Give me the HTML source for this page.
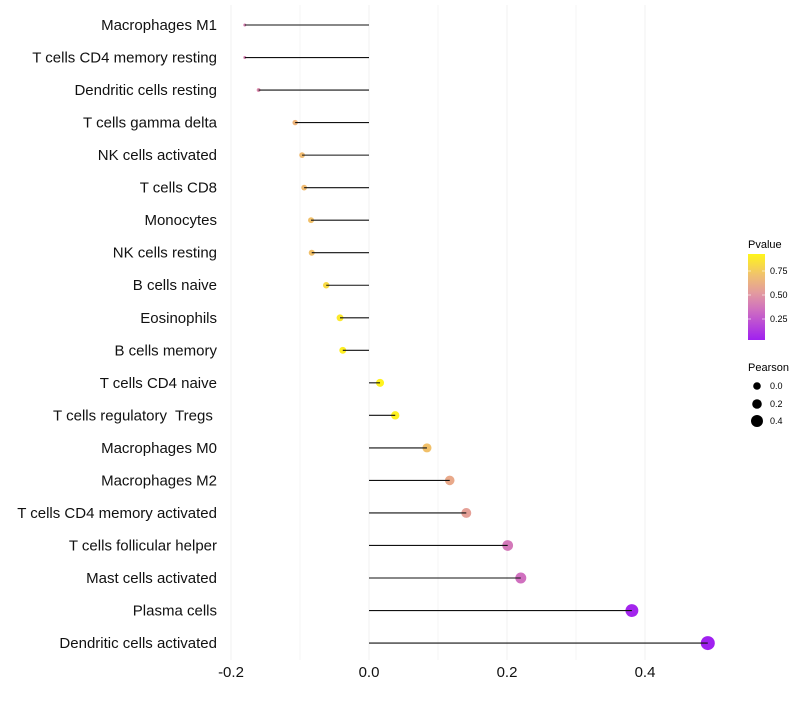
<!DOCTYPE html>
<html><head><meta charset="utf-8"><style>
body{margin:0;background:#fff;font-family:"Liberation Sans",sans-serif}
text{white-space:pre}
</style></head><body>
<svg id="chart" width="800" height="700" xmlns="http://www.w3.org/2000/svg" font-family="Liberation Sans, sans-serif">
<defs><linearGradient id="pg" x1="0" y1="1" x2="0" y2="0">
<stop offset="0" stop-color="#A020F0"/><stop offset="0.35" stop-color="#CF6FC0"/><stop offset="0.55" stop-color="#E39B9E"/><stop offset="0.75" stop-color="#F0C070"/><stop offset="1" stop-color="#FFF51A"/></linearGradient></defs>
<g id="grid"></g><g id="points"></g><g id="marks"></g><g id="ylabels"></g><g id="xlabels"></g>
<g>
<text x="748" y="248" font-size="11">Pvalue</text>
<rect x="748" y="254" width="17" height="86" fill="url(#pg)"/>
<line x1="748" x2="751" y1="271" y2="271" stroke="#fff" opacity=".6"/><line x1="762" x2="765" y1="271" y2="271" stroke="#fff" opacity=".6"/>
<line x1="748" x2="751" y1="295" y2="295" stroke="#fff" opacity=".6"/><line x1="762" x2="765" y1="295" y2="295" stroke="#fff" opacity=".6"/>
<line x1="748" x2="751" y1="319" y2="319" stroke="#fff" opacity=".6"/><line x1="762" x2="765" y1="319" y2="319" stroke="#fff" opacity=".6"/>
<text x="770" y="274" font-size="9">0.75</text><text x="770" y="298" font-size="9">0.50</text><text x="770" y="322" font-size="9">0.25</text>
</g>
<g>
<text x="748" y="371" font-size="11">Pearson</text>
<circle cx="757" cy="386" r="3.8"/><text x="770" y="389" font-size="9">0.0</text>
<circle cx="757" cy="404" r="4.8"/><text x="770" y="407" font-size="9">0.2</text>
<circle cx="757" cy="421" r="6"/><text x="770" y="424" font-size="9">0.4</text>
</g>
</svg>
<script>
const categories=["Macrophages M1","T cells CD4 memory resting","Dendritic cells resting","T cells gamma delta","NK cells activated","T cells CD8","Monocytes","NK cells resting","B cells naive","Eosinophils","B cells memory","T cells CD4 naive","T cells regulatory  Tregs ","Macrophages M0","Macrophages M2","T cells CD4 memory activated","T cells follicular helper","Mast cells activated","Plasma cells","Dendritic cells activated"];
const pearson=[-0.18,-0.18,-0.16,-0.107,-0.097,-0.094,-0.084,-0.083,-0.062,-0.042,-0.038,0.016,0.038,0.084,0.117,0.141,0.201,0.22,0.381,0.491];
const pvalue=[0.42,0.42,0.45,0.66,0.7,0.7,0.72,0.72,0.82,0.88,0.9,0.92,0.91,0.72,0.6,0.55,0.38,0.35,0.05,0.03];
const xTicks=[-0.2,0.0,0.2,0.4];
const xTickLabels=["-0.2","0.0","0.2","0.4"];
const NS="http://www.w3.org/2000/svg";
const xs=v=>369+v*690, ys=i=>25+i*32.53;
const rs=v=>Math.sqrt(Math.max(1.8,14.8+69.8*v));
const stops=[[0,[160,32,240]],[0.35,[207,111,192]],[0.55,[227,155,158]],[0.75,[240,188,112]],[1,[255,245,26]]];
function col(p){let t=(p-0.03)/(0.927-0.03);t=Math.max(0,Math.min(1,t));
for(let k=1;k<stops.length;k++){if(t<=stops[k][0]){const a=stops[k-1],b=stops[k],f=(t-a[0])/(b[0]-a[0]);return "rgb("+a[1].map((c,j)=>Math.round(c+(b[1][j]-c)*f)).join(",")+")";}}return "rgb(255,245,26)";}
function mk(tag,at,parent){const e=document.createElementNS(NS,tag);for(const k in at)e.setAttribute(k,at[k]);document.getElementById(parent).appendChild(e);return e;}
[-0.2,-0.1,0,0.1,0.2,0.3,0.4].forEach((v,i)=>{const l=mk("line",{x1:xs(v),x2:xs(v),y1:5,y2:660,stroke:"#f0f0f0","stroke-width":(i%2==0)?1:0.6},"grid");

});
categories.forEach((c,i)=>{const y=ys(i);
const p=mk("circle",{cx:xs(pearson[i]),cy:y,r:rs(pearson[i]),fill:col(pvalue[i])},"points");


const s=mk("line",{x1:xs(0),x2:xs(pearson[i]),y1:y,y2:y,stroke:"#111","stroke-width":1.1},"marks");


const t=mk("text",{x:217,y:y+5,"text-anchor":"end","font-size":15,fill:"#111"},"ylabels");t.textContent=c;

});
xTicks.forEach((v,i)=>{const t=mk("text",{x:xs(v),y:677,"text-anchor":"middle","font-size":15,fill:"#111"},"xlabels");t.textContent=xTickLabels[i];

});
</script>
</body></html>
